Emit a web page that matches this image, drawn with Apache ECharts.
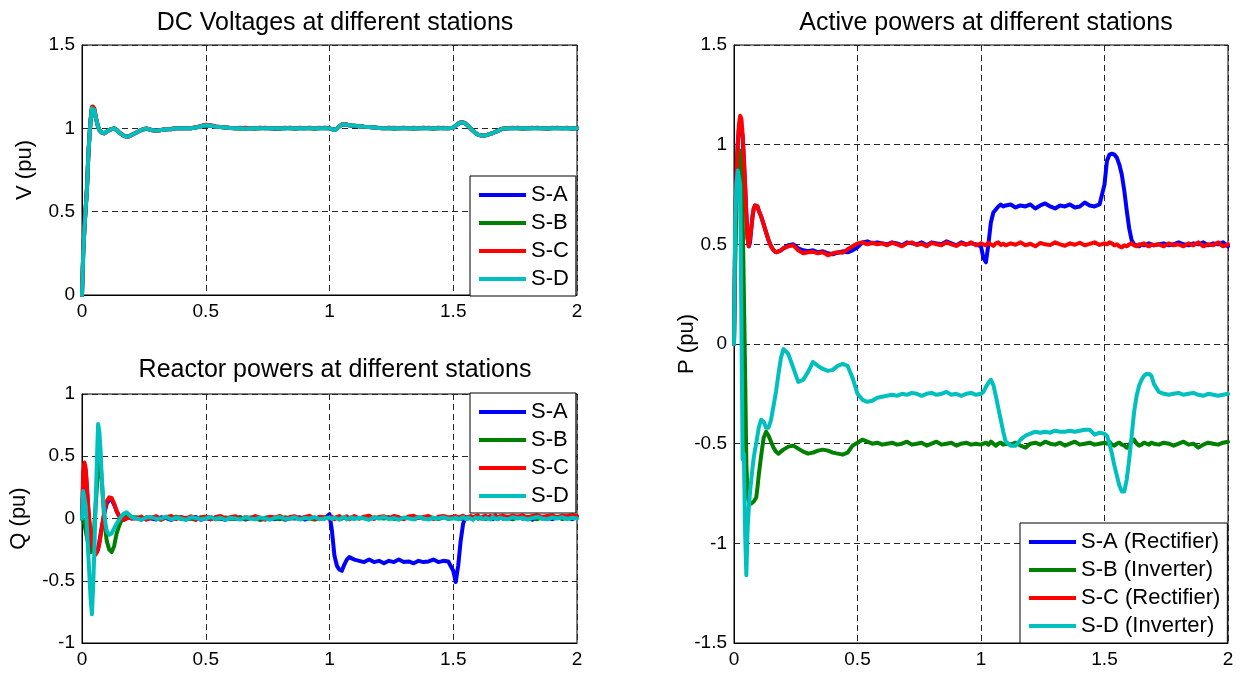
<!DOCTYPE html>
<html>
<head>
<meta charset="utf-8">
<script src="https://cdn.jsdelivr.net/npm/echarts@6/dist/echarts.min.js"></script>
<style>
  html, body { margin: 0; padding: 0; background: #fff; }
  #chart { width: 1244px; height: 675px; }
</style>
</head>
<body>
<div id="chart"></div>
<script>
// Simulation time base (s), finer around the disturbances
const T = [
  0, 0.005, 0.01, 0.015, 0.02, 0.025, 0.03, 0.035, 0.04, 0.045, 0.05, 0.055, 0.06, 0.065, 0.07, 0.075, 0.08, 0.085, 0.09, 0.095, 0.1,
  0.11, 0.12, 0.13, 0.14, 0.15, 0.16, 0.17, 0.18, 0.19, 0.2,
  0.22, 0.24, 0.26, 0.28, 0.3, 0.32, 0.34, 0.36, 0.38, 0.4, 0.42, 0.44, 0.46, 0.48, 0.5, 0.52, 0.54, 0.56, 0.58, 0.6,
  0.62, 0.64, 0.66, 0.68, 0.7, 0.72, 0.74, 0.76, 0.78, 0.8, 0.82, 0.84, 0.86, 0.88, 0.9, 0.92, 0.94, 0.96, 0.98, 1.0,
  1.01, 1.02, 1.03, 1.04, 1.05, 1.06, 1.07, 1.08, 1.09, 1.1,
  1.12, 1.14, 1.16, 1.18, 1.2, 1.22, 1.24, 1.26, 1.28, 1.3, 1.32, 1.34, 1.36, 1.38, 1.4, 1.42, 1.44, 1.46, 1.48, 1.5,
  1.51, 1.52, 1.53, 1.54, 1.55, 1.56, 1.57, 1.58, 1.59, 1.6, 1.61, 1.62, 1.63, 1.64, 1.65, 1.66, 1.67, 1.68, 1.69, 1.7,
  1.72, 1.74, 1.76, 1.78, 1.8, 1.82, 1.84, 1.86, 1.88, 1.9, 1.92, 1.94, 1.96, 1.98, 2.0
];

// ---- DC voltages (pu) ----
const V_A = [
  0, 0.26, 0.41, 0.52, 0.64, 0.82, 0.95, 1.05, 1.12, 1.13, 1.11, 1.07, 1.04, 1.01, 0.99, 0.98, 0.975, 0.97, 0.97, 0.975, 0.98,
  0.99, 0.995, 1.0, 0.99, 0.975, 0.965, 0.955, 0.95, 0.952, 0.96,
  0.975, 0.99, 1.0, 0.99, 0.985, 0.99, 0.995, 0.995, 1.0, 1.0, 1.0, 1.0, 1.005, 1.012, 1.018, 1.015, 1.01, 1.008, 1.005, 1.002,
  1.0, 1.003, 0.998, 1.0, 1.0, 1.004, 1.0, 1.0, 0.997, 1.0, 1.0, 1.004, 1.0, 1.0, 1.0, 1.003, 1.0, 1.0, 1.004, 1.0,
  0.995, 0.99, 0.998, 1.012, 1.022, 1.025, 1.022, 1.018, 1.016, 1.015,
  1.013, 1.01, 1.008, 1.005, 1.002, 1.0, 1.003, 1.0, 1.0, 1.004, 1.0, 1.0, 1.0, 1.003, 1.0, 1.0, 1.004, 1.0, 1.0, 1.004,
  1.015, 1.028, 1.035, 1.035, 1.028, 1.015, 1.0, 0.985, 0.972, 0.962, 0.958, 0.956, 0.958, 0.962, 0.967, 0.972, 0.978, 0.985, 0.992, 0.998,
  1.0, 1.0, 1.003, 1.0, 1.0, 1.0, 1.003, 1.0, 1.0, 1.0, 1.003, 1.0, 1.0, 1.0, 1.0
];
const V_B = [
  0, 0.25, 0.4, 0.52, 0.63, 0.81, 0.95, 1.05, 1.11, 1.13, 1.11, 1.07, 1.04, 1.01, 0.99, 0.98, 0.975, 0.97, 0.97, 0.975, 0.98,
  0.99, 0.995, 1.0, 0.99, 0.975, 0.965, 0.955, 0.95, 0.952, 0.96,
  0.975, 0.99, 0.997, 0.99, 0.985, 0.99, 0.995, 0.997, 1.0, 1.0, 1.0, 1.0, 1.005, 1.012, 1.018, 1.015, 1.01, 1.008, 1.005, 1.002,
  1.0, 0.998, 1.0, 1.0, 0.997, 1.0, 1.0, 1.0, 1.0, 0.998, 1.0, 1.0, 0.997, 1.0, 1.0, 1.0, 0.998, 1.0, 1.0, 1.0,
  0.995, 0.99, 0.998, 1.012, 1.022, 1.025, 1.022, 1.018, 1.016, 1.015,
  1.013, 1.01, 1.008, 1.005, 1.002, 1.0, 1.0, 0.998, 1.0, 1.0, 1.0, 0.998, 1.0, 1.0, 1.0, 0.998, 1.0, 1.0, 1.0, 1.004,
  1.015, 1.028, 1.035, 1.035, 1.028, 1.015, 1.0, 0.985, 0.972, 0.962, 0.958, 0.956, 0.958, 0.962, 0.967, 0.972, 0.978, 0.985, 0.992, 0.998,
  1.0, 1.0, 1.0, 0.998, 1.0, 1.0, 1.0, 1.0, 0.998, 1.0, 1.0, 1.0, 1.0, 0.998, 1.0
];
const V_C = [
  0, 0.26, 0.41, 0.53, 0.64, 0.83, 0.96, 1.06, 1.13, 1.14, 1.12, 1.07, 1.04, 1.01, 0.99, 0.98, 0.975, 0.97, 0.97, 0.975, 0.98,
  0.99, 0.995, 1.0, 0.99, 0.975, 0.965, 0.955, 0.95, 0.952, 0.96,
  0.975, 0.99, 1.0, 0.99, 0.985, 0.99, 0.995, 0.995, 1.0, 1.0, 1.0, 1.0, 1.006, 1.014, 1.022, 1.018, 1.012, 1.008, 1.005, 1.002,
  1.0, 1.0, 1.003, 1.0, 1.0, 1.0, 1.004, 1.0, 1.0, 1.0, 1.003, 1.0, 1.0, 1.004, 1.0, 1.0, 1.0, 1.003, 1.0, 1.0,
  0.995, 0.99, 0.998, 1.013, 1.023, 1.026, 1.023, 1.018, 1.016, 1.015,
  1.013, 1.01, 1.008, 1.005, 1.002, 1.0, 1.0, 1.004, 1.0, 1.0, 1.0, 1.004, 1.0, 1.0, 1.003, 1.0, 1.0, 1.004, 1.0, 1.004,
  1.015, 1.028, 1.036, 1.036, 1.028, 1.015, 1.0, 0.985, 0.972, 0.962, 0.958, 0.956, 0.958, 0.962, 0.967, 0.972, 0.978, 0.985, 0.992, 0.998,
  1.0, 1.003, 1.0, 1.0, 1.0, 1.003, 1.0, 1.0, 1.0, 1.003, 1.0, 1.0, 1.003, 1.0, 1.0
];
const V_D = [
  0, 0.25, 0.4, 0.52, 0.63, 0.82, 0.95, 1.05, 1.12, 1.13, 1.11, 1.07, 1.04, 1.01, 0.99, 0.98, 0.975, 0.97, 0.97, 0.975, 0.98,
  0.99, 0.995, 1.0, 0.99, 0.975, 0.965, 0.955, 0.95, 0.952, 0.96,
  0.975, 0.99, 1.0, 0.99, 0.985, 0.99, 0.995, 0.995, 1.0, 1.0, 1.0, 1.0, 1.005, 1.012, 1.018, 1.015, 1.01, 1.008, 1.005, 1.002,
  1.0, 1.0, 0.998, 1.0, 1.0, 1.0, 1.0, 1.0, 1.0, 1.0, 1.0, 1.0, 1.0, 1.0, 1.0, 1.0, 1.0, 1.0, 1.0, 1.0,
  0.995, 0.99, 0.998, 1.012, 1.022, 1.025, 1.022, 1.018, 1.016, 1.015,
  1.013, 1.01, 1.008, 1.005, 1.002, 1.0, 1.0, 1.0, 1.0, 1.0, 1.0, 1.0, 1.0, 1.0, 1.0, 1.0, 1.0, 1.0, 1.0, 1.004,
  1.015, 1.028, 1.035, 1.035, 1.028, 1.015, 1.0, 0.985, 0.972, 0.962, 0.958, 0.956, 0.958, 0.962, 0.967, 0.972, 0.978, 0.985, 0.992, 0.998,
  1.0, 1.0, 1.0, 1.0, 1.0, 1.0, 1.0, 1.0, 1.0, 1.0, 1.0, 1.0, 1.0, 1.0, 1.0
];

// ---- Reactive powers (pu) ----
const Q_A = [
  0, 0.32, 0.42, 0.38, 0.24, 0.08, -0.05, -0.14, -0.21, -0.25, -0.27, -0.28, -0.27, -0.24, -0.19, -0.13, -0.07, -0.02, 0.04, 0.08, 0.12,
  0.15, 0.15, 0.11, 0.06, 0.02, 0.0, -0.01, 0.0, 0.01, 0.0,
  0.005, -0.01, 0.01, 0.0, -0.008, 0.01, 0.003, -0.012, 0.005, 0.01, -0.005, 0.0, 0.012, -0.01, 0.004, -0.006, 0.01, 0.0, -0.01, 0.006,
  -0.004, 0.01, -0.008, 0.005, 0.012, -0.01, 0.0, 0.008, -0.006, 0.01, -0.01, 0.004, 0.0, 0.01, -0.008, 0.006, -0.004, 0.01, 0.0, 0.035,
  -0.1, -0.3, -0.38, -0.41, -0.42, -0.37, -0.33, -0.31, -0.32, -0.33,
  -0.34, -0.35, -0.33, -0.35, -0.34, -0.36, -0.34, -0.35, -0.33, -0.35, -0.345, -0.36, -0.34, -0.35, -0.345, -0.33, -0.35, -0.34, -0.345, -0.42,
  -0.51, -0.38, -0.18, -0.04, 0.01, 0.0, 0.01, -0.005, 0.01, 0.0, 0.012, -0.004, 0.01, 0.0, 0.015, -0.005, 0.01, 0.005, 0.015, 0.0,
  0.01, -0.005, 0.015, 0.0, 0.01, -0.01, 0.012, 0.0, 0.008, -0.005, 0.01, 0.0, 0.012, -0.006, 0.01
];
const Q_B = [
  0, -0.02, -0.05, -0.1, -0.15, -0.2, -0.25, -0.27, -0.26, -0.2, -0.05, 0.1, 0.25, 0.4, 0.47, 0.44, 0.3, 0.15, 0.0, -0.1, -0.18,
  -0.25, -0.27, -0.22, -0.12, -0.06, -0.01, 0.01, 0.02, 0.025, 0.01,
  0.01, 0.0, -0.005, 0.012, 0.0, -0.01, 0.008, 0.0, 0.015, -0.004, 0.006, 0.0, -0.01, 0.01, 0.002, 0.012, -0.006, 0.0, 0.008, -0.004,
  0.0, 0.01, -0.005, 0.008, 0.0, -0.01, 0.006, 0.012, 0.0, -0.006, 0.01, 0.0, 0.008, -0.004, 0.012, 0.0, -0.008, 0.006, 0.01, 0.0,
  0.008, 0.0, 0.012, 0.004, 0.0, 0.01, -0.005, 0.006, 0.0, 0.012,
  0.0, 0.008, -0.006, 0.01, 0.004, 0.0, 0.012, -0.004, 0.006, 0.0, 0.01, -0.006, 0.008, 0.0, 0.012, 0.004, -0.004, 0.01, 0.0, 0.006,
  0.0, 0.01, -0.004, 0.008, 0.0, 0.012, 0.004, -0.006, 0.01, 0.0, 0.006, 0.012, -0.004, 0.008, 0.0, 0.01, 0.004, -0.006, 0.012, 0.0,
  0.008, -0.004, 0.01, 0.0, 0.012, 0.004, -0.006, 0.01, 0.0, 0.008, 0.012, -0.004, 0.006, 0.0, 0.01
];
const Q_C = [
  0, 0.38, 0.45, 0.4, 0.25, 0.1, -0.02, -0.12, -0.19, -0.24, -0.27, -0.29, -0.28, -0.25, -0.2, -0.14, -0.07, -0.01, 0.05, 0.1, 0.14,
  0.17, 0.165, 0.12, 0.06, 0.02, 0.0, -0.01, 0.0, 0.01, 0.0,
  0.0, 0.015, -0.01, 0.005, 0.018, -0.008, 0.01, 0.02, -0.005, 0.012, 0.0, 0.018, -0.01, 0.008, 0.015, -0.006, 0.012, 0.02, 0.0, 0.01,
  0.018, -0.006, 0.012, 0.0, 0.02, 0.005, -0.01, 0.015, 0.008, 0.02, -0.004, 0.012, 0.018, 0.0, 0.01, 0.022, -0.006, 0.014, 0.008, 0.0,
  0.015, -0.005, 0.012, 0.02, 0.0, 0.01, 0.018, -0.006, 0.012, 0.02,
  0.0, 0.015, 0.022, -0.004, 0.012, 0.018, 0.0, 0.02, 0.01, -0.006, 0.016, 0.022, 0.004, 0.012, 0.02, -0.004, 0.014, 0.02, 0.008, 0.015,
  0.02, 0.004, 0.015, 0.022, -0.004, 0.012, 0.02, 0.006, 0.018, 0.024, 0.0, 0.015, 0.022, 0.008, 0.02, 0.012, 0.025, 0.004, 0.018, 0.022,
  0.01, 0.022, 0.015, 0.025, 0.008, 0.02, 0.026, 0.012, 0.02, 0.025, 0.01, 0.022, 0.018, 0.026, 0.02
];
const Q_D = [
  0.0, 0.22, 0.21, 0.1, -0.08, -0.27, -0.46, -0.65, -0.77, -0.55, -0.25, 0.12, 0.45, 0.76, 0.7, 0.55, 0.32, 0.16, 0.05, -0.04, -0.1,
  -0.13, -0.12, -0.08, -0.04, -0.01, 0.02, 0.04, 0.05, 0.03, 0.01,
  0.0, -0.01, 0.008, 0.012, -0.004, 0.0, 0.015, -0.008, 0.006, 0.0, -0.012, 0.01, 0.004, -0.006, 0.0, 0.012, -0.004, 0.006, -0.01, 0.004,
  0.0, -0.008, 0.01, 0.0, -0.006, 0.008, 0.0, -0.01, 0.006, 0.012, -0.004, 0.0, 0.01, -0.008, 0.004, 0.0, 0.012, -0.006, 0.0, 0.008,
  -0.004, 0.008, 0.0, -0.01, 0.006, 0.012, -0.006, 0.0, 0.01, -0.004,
  0.006, 0.0, -0.01, 0.008, 0.0, 0.012, -0.006, 0.004, -0.01, 0.008, 0.0, -0.006, 0.012, 0.0, -0.008, 0.006, 0.0, 0.01, -0.004, 0.0,
  0.008, -0.006, 0.0, 0.012, -0.004, 0.006, 0.0, -0.01, 0.008, 0.0, 0.01, -0.006, 0.004, 0.0, -0.008, 0.012, 0.0, -0.004, 0.008, 0.0,
  -0.006, 0.01, 0.0, 0.006, -0.008, 0.004, 0.012, 0.0, -0.006, 0.008, 0.0, 0.01, -0.004, 0.006, 0.0
];

// ---- Active powers (pu) ----
const P_A = [
  0, 0.58, 0.86, 1.0, 1.08, 1.12, 1.11, 1.04, 0.92, 0.79, 0.65, 0.53, 0.49, 0.51, 0.58, 0.64, 0.68, 0.695, 0.7, 0.69, 0.67,
  0.64, 0.6, 0.56, 0.52, 0.49, 0.47, 0.46, 0.465, 0.47, 0.48,
  0.495, 0.5, 0.48, 0.47, 0.465, 0.47, 0.46, 0.465, 0.455, 0.45, 0.458, 0.465, 0.46, 0.47, 0.485, 0.51, 0.515, 0.505, 0.51, 0.505,
  0.5, 0.51, 0.505, 0.495, 0.51, 0.505, 0.5, 0.51, 0.495, 0.51, 0.505, 0.5, 0.515, 0.505, 0.495, 0.51, 0.5, 0.505, 0.5, 0.49,
  0.43, 0.41, 0.5, 0.61, 0.66, 0.675, 0.69, 0.7, 0.69, 0.695,
  0.7, 0.685, 0.695, 0.69, 0.7, 0.68, 0.695, 0.705, 0.69, 0.68, 0.695, 0.69, 0.7, 0.685, 0.69, 0.71, 0.695, 0.69, 0.7, 0.8,
  0.92, 0.95, 0.955, 0.95, 0.935, 0.9, 0.85, 0.77, 0.67, 0.58, 0.52, 0.5, 0.495, 0.49, 0.5, 0.495, 0.5, 0.505, 0.5, 0.495,
  0.5, 0.505, 0.495, 0.5, 0.51, 0.5, 0.495, 0.505, 0.5, 0.51, 0.495, 0.505, 0.5, 0.51, 0.49
];
const P_B = [
  0, 0.4, 0.7, 0.88, 0.95, 0.97, 0.9, 0.65, 0.25, -0.15, -0.6, -0.76, -0.79, -0.8, -0.8, -0.79, -0.79, -0.78, -0.77, -0.72, -0.66,
  -0.56, -0.47, -0.44, -0.46, -0.49, -0.52, -0.54, -0.55, -0.54, -0.53,
  -0.515, -0.51, -0.525, -0.54, -0.55, -0.545, -0.535, -0.53, -0.535, -0.545, -0.55, -0.555, -0.545, -0.51, -0.495, -0.48, -0.49, -0.5, -0.495, -0.505,
  -0.5, -0.495, -0.505, -0.5, -0.49, -0.505, -0.5, -0.495, -0.51, -0.5, -0.49, -0.505, -0.5, -0.495, -0.51, -0.5, -0.495, -0.505, -0.5, -0.505,
  -0.5, -0.495, -0.505, -0.49, -0.5, -0.51, -0.5, -0.495, -0.505, -0.5,
  -0.505, -0.495, -0.51, -0.52, -0.5, -0.495, -0.505, -0.49, -0.5, -0.505, -0.495, -0.51, -0.5, -0.49, -0.505, -0.5, -0.495, -0.505, -0.5, -0.495,
  -0.5, -0.49, -0.505, -0.51, -0.5, -0.495, -0.505, -0.51, -0.52, -0.505, -0.49, -0.48, -0.5, -0.51, -0.505, -0.495, -0.5, -0.505, -0.495, -0.5,
  -0.505, -0.495, -0.5, -0.51, -0.5, -0.49, -0.505, -0.5, -0.52, -0.505, -0.495, -0.5, -0.505, -0.495, -0.49
];
const P_C = [
  0, 0.6, 0.85, 1.0, 1.1, 1.145, 1.13, 1.05, 0.93, 0.8, 0.65, 0.53, 0.49, 0.5, 0.58, 0.64, 0.68, 0.695, 0.7, 0.69, 0.67,
  0.64, 0.6, 0.56, 0.52, 0.49, 0.47, 0.46, 0.465, 0.47, 0.48,
  0.49, 0.495, 0.47, 0.455, 0.46, 0.462, 0.455, 0.46, 0.445, 0.455, 0.46, 0.458, 0.475, 0.49, 0.505, 0.51, 0.5, 0.508, 0.5, 0.505,
  0.495, 0.508, 0.5, 0.49, 0.505, 0.51, 0.497, 0.503, 0.49, 0.507, 0.5, 0.495, 0.51, 0.5, 0.492, 0.505, 0.498, 0.51, 0.495, 0.505,
  0.5, 0.495, 0.508, 0.5, 0.492, 0.505, 0.51, 0.497, 0.503, 0.495,
  0.505, 0.498, 0.51, 0.495, 0.503, 0.49, 0.507, 0.5, 0.496, 0.51, 0.5, 0.493, 0.505, 0.498, 0.508, 0.495, 0.502, 0.51, 0.497, 0.505,
  0.5, 0.51, 0.505, 0.495, 0.5, 0.49, 0.485, 0.495, 0.49, 0.5, 0.505, 0.495, 0.49, 0.5, 0.498, 0.505, 0.495, 0.49, 0.5, 0.495,
  0.5, 0.49, 0.505, 0.495, 0.5, 0.49, 0.505, 0.495, 0.51, 0.49, 0.5, 0.495, 0.51, 0.49, 0.5
];
const P_D = [
  0.0, 0.62, 0.8, 0.87, 0.88, 0.8, 0.1, -0.58, -0.55, -0.95, -1.16, -0.93, -0.82, -0.74, -0.68, -0.62, -0.57, -0.53, -0.5, -0.46, -0.42,
  -0.38, -0.39, -0.42, -0.42, -0.38, -0.31, -0.24, -0.15, -0.07, -0.025,
  -0.05, -0.12, -0.19, -0.18, -0.14, -0.09, -0.11, -0.125, -0.135, -0.13, -0.11, -0.1, -0.11, -0.17, -0.25, -0.28, -0.29, -0.285, -0.27, -0.265,
  -0.26, -0.255, -0.26, -0.25, -0.255, -0.245, -0.25, -0.26, -0.25, -0.245, -0.255, -0.25, -0.24, -0.255, -0.25, -0.26, -0.25, -0.245, -0.255, -0.25,
  -0.24, -0.215, -0.195, -0.18, -0.205, -0.26, -0.32, -0.38, -0.44, -0.49,
  -0.51, -0.51, -0.48, -0.46, -0.45, -0.44, -0.445, -0.44, -0.445, -0.435, -0.44, -0.44, -0.435, -0.44, -0.435, -0.43, -0.43, -0.455, -0.445, -0.45,
  -0.46, -0.5, -0.55, -0.61, -0.66, -0.71, -0.74, -0.74, -0.68, -0.58, -0.46, -0.34, -0.26, -0.21, -0.18, -0.16, -0.15, -0.15, -0.16, -0.2,
  -0.24, -0.25, -0.255, -0.25, -0.245, -0.255, -0.25, -0.245, -0.255, -0.26, -0.25, -0.255, -0.26, -0.255, -0.25
];

// Axis tick values
const X_TICKS = [0, 0.5, 1, 1.5, 2];
const V_TICKS = [0, 0.5, 1, 1.5];
const Q_TICKS = [-1, -0.5, 0, 0.5, 1];
const P_TICKS = [-1.5, -1, -0.5, 0, 0.5, 1, 1.5];

const STATIONS = ['S-A', 'S-B', 'S-C', 'S-D'];
const P_NAMES = ['S-A (Rectifier)', 'S-B (Inverter)', 'S-C (Rectifier)', 'S-D (Inverter)'];
const COLORS = ['#0000ff', '#008000', '#ff0000', '#00bfbf'];

const FONT = '"Liberation Sans", Arial, Helvetica, sans-serif';
const GRID_DASH = { color: '#262626', type: [6, 4], width: 1 };

function pairs(vals) { return T.map((t, i) => [t, vals[i]]); }

function xAxis(gridIndex) {
  return {
    type: 'value', gridIndex,
    min: X_TICKS[0], max: X_TICKS[X_TICKS.length - 1], interval: X_TICKS[1] - X_TICKS[0],
    axisLine: { show: true, onZero: false, lineStyle: { color: '#000', width: 1 } },
    axisTick: { show: false },
    axisLabel: { color: '#000', fontSize: 19, fontFamily: FONT, margin: 7 },
    splitLine: { show: true, lineStyle: GRID_DASH }
  };
}
function yAxis(gridIndex, ticks, name, nameGap) {
  return {
    type: 'value', gridIndex,
    min: ticks[0], max: ticks[ticks.length - 1], interval: ticks[1] - ticks[0],
    name, nameLocation: 'middle', nameGap, nameMoveOverlap: false,
    nameTextStyle: { color: '#000', fontSize: 22, fontFamily: FONT },
    axisLine: { show: true, onZero: false, lineStyle: { color: '#000', width: 1 } },
    axisTick: { show: false },
    axisLabel: { color: '#000', fontSize: 19, fontFamily: FONT, margin: 7 },
    splitLine: { show: true, lineStyle: GRID_DASH }
  };
}
function legend(names, left, top) {
  return {
    data: names, orient: 'vertical', left, top,
    backgroundColor: '#fff', borderColor: '#000', borderWidth: 1, borderRadius: 0,
    padding: [8, 7, 6, 9], itemGap: 6,
    icon: 'rect', itemWidth: 47, itemHeight: 4,
    textStyle: { color: '#000', fontSize: 22, fontFamily: FONT, lineHeight: 22 },
    selectedMode: false
  };
}
function lineSeries(name, vals, idx, k) {
  return {
    type: 'line', name, data: pairs(vals), xAxisIndex: idx, yAxisIndex: idx,
    showSymbol: false, symbol: 'none', color: COLORS[k],
    lineStyle: { width: 4, color: COLORS[k], join: 'round', cap: 'round' },
    emphasis: { disabled: true }, animation: false
  };
}
function title(text, left, top) {
  return { text, left, top, textAlign: 'center',
    textStyle: { color: '#000', fontSize: 25, fontWeight: 'normal', fontFamily: FONT } };
}

const chart = echarts.init(document.getElementById('chart'), null, { renderer: 'canvas' });
chart.setOption({
  animation: false,
  backgroundColor: '#fff',
  title: [
    title('DC Voltages at different stations', 330, 6),
    title('Reactor powers at different stations', 330, 353),
    title('Active powers at different stations', 981, 6)
  ],
  grid: [
    { left: 82, top: 45, width: 495, height: 250, show: true, borderColor: '#000', borderWidth: 1, backgroundColor: 'transparent' },
    { left: 82, top: 394, width: 495, height: 249, show: true, borderColor: '#000', borderWidth: 1, backgroundColor: 'transparent' },
    { left: 734, top: 45, width: 494, height: 598, show: true, borderColor: '#000', borderWidth: 1, backgroundColor: 'transparent' }
  ],
  xAxis: [xAxis(0), xAxis(1), xAxis(2)],
  yAxis: [
    yAxis(0, V_TICKS, 'V (pu)', 46),
    yAxis(1, Q_TICKS, 'Q (pu)', 52),
    yAxis(2, P_TICKS, 'P (pu)', 36)
  ],
  legend: [
    legend(STATIONS, 470, 176),
    legend(STATIONS, 470, 393),
    legend(P_NAMES, 1020, 523)
  ],
  series: [
    lineSeries('S-A', V_A, 0, 0), lineSeries('S-B', V_B, 0, 1), lineSeries('S-C', V_C, 0, 2), lineSeries('S-D', V_D, 0, 3),
    lineSeries('S-A', Q_A, 1, 0), lineSeries('S-B', Q_B, 1, 1), lineSeries('S-C', Q_C, 1, 2), lineSeries('S-D', Q_D, 1, 3),
    lineSeries(P_NAMES[0], P_A, 2, 0), lineSeries(P_NAMES[1], P_B, 2, 1), lineSeries(P_NAMES[2], P_C, 2, 2), lineSeries(P_NAMES[3], P_D, 2, 3)
  ]
});
</script>
</body>
</html>
